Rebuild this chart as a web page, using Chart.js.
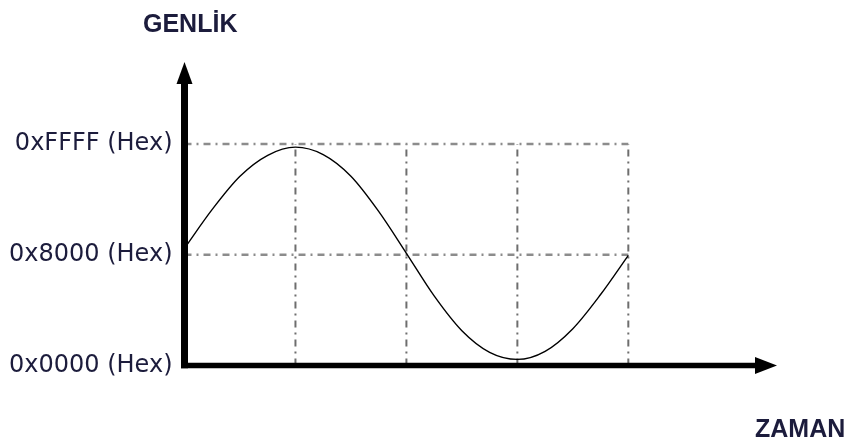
<!DOCTYPE html>
<html>
<head>
<meta charset="utf-8">
<script src="https://cdn.jsdelivr.net/npm/chart.js@4.4.0/dist/chart.umd.min.js"></script>
<style>
  html, body { margin: 0; padding: 0; background: #fff; }
  #wrap { width: 852px; height: 443px; }
</style>
</head>
<body>
<div id="wrap"><canvas id="sineChart"></canvas></div>
<script>
// Zaman ekseni (x) noktaları ve genlik değerleri
const timePoints = [0, 0.25, 0.5, 0.75, 1, 1.25, 1.5, 1.75, 2, 2.25, 2.5, 2.75, 3, 3.25, 3.5, 3.75, 4];
const amplitudeValues = [34700, 46200, 56000, 62200, 64600, 62400, 56000, 45600, 33200, 20600, 10300, 3900, 1800, 4200, 10900, 21000, 32600];

// Y ekseni etiketleri
const tickValues = [0, 32768, 65535];
const tickLabels = ['0x0000 (Hex)', '0x8000 (Hex)', '0xFFFF (Hex)'];

// Kılavuz çizgileri
const gridLevels = [65535, 32768];
const gridTimes = [1, 2, 3, 4];

const yTitle = 'GENLİK';
const xTitle = 'ZAMAN';

const xMax = 5.34;
const yMax = 89800;

const dashPattern = [7, 5, 2, 5];

// Kılavuz çizgileri için datasetler
const gridDatasets = [];
gridLevels.forEach(level => {
    gridDatasets.push({
        data: [{ x: 0, y: level }, { x: gridTimes[gridTimes.length - 1], y: level }],
        borderColor: '#8c8c8c',
        borderWidth: 2.5,
        borderDash: dashPattern,
        pointRadius: 0,
        tension: 0
    });
});
gridTimes.forEach(t => {
    gridDatasets.push({
        data: [{ x: t, y: 0 }, { x: t, y: gridLevels[0] }],
        borderColor: '#6e6e6e',
        borderWidth: 2,
        borderDash: dashPattern,
        pointRadius: 0,
        tension: 0
    });
});

// Eksenler, oklar ve başlıklar
const axesPlugin = {
    id: 'axesArrows',
    afterDatasetsDraw(chart) {
        const { ctx, chartArea } = chart;
        const yScale = chart.scales.y;
        const x0 = chartArea.left;
        const y0 = yScale.getPixelForValue(0);
        ctx.save();
        ctx.fillStyle = '#000';
        ctx.strokeStyle = '#000';

        // dikey eksen
        ctx.lineWidth = 7;
        ctx.beginPath();
        ctx.moveTo(x0, y0 + 2.75);
        ctx.lineTo(x0, chartArea.top + 20);
        ctx.stroke();
        ctx.beginPath();
        ctx.moveTo(x0, chartArea.top);
        ctx.lineTo(x0 + 8, chartArea.top + 22);
        ctx.lineTo(x0 - 8, chartArea.top + 22);
        ctx.closePath();
        ctx.fill();

        // yatay eksen
        ctx.lineWidth = 5.5;
        ctx.beginPath();
        ctx.moveTo(x0 - 3.5, y0);
        ctx.lineTo(chartArea.right - 20, y0);
        ctx.stroke();
        ctx.beginPath();
        ctx.moveTo(chartArea.right, y0);
        ctx.lineTo(chartArea.right - 22, y0 - 8.5);
        ctx.lineTo(chartArea.right - 22, y0 + 8.5);
        ctx.closePath();
        ctx.fill();

        // başlıklar
        ctx.fillStyle = '#1c1c3c';
        ctx.font = 'bold 25px "Liberation Sans", Arial, sans-serif';
        ctx.textAlign = 'left';
        ctx.textBaseline = 'alphabetic';
        ctx.fillText(yTitle, 143, 32);
        ctx.fillText(xTitle, 755, 437);
        ctx.restore();
    }
};

const ctx = document.getElementById('sineChart').getContext('2d');
new Chart(ctx, {
    type: 'line',
    data: {
        datasets: [
            {
                data: timePoints.map((t, i) => ({ x: t, y: amplitudeValues[i] })),
                borderColor: '#000',
                borderWidth: 1.4,
                pointRadius: 0,
                cubicInterpolationMode: 'monotone',
                fill: false
            },
            ...gridDatasets
        ]
    },
    options: {
        responsive: true,
        maintainAspectRatio: false,
        animation: false,
        layout: {
            padding: { top: 62, right: 75, bottom: 77.5, left: 0 }
        },
        plugins: {
            legend: { display: false },
            tooltip: { enabled: false },
            title: { display: false }
        },
        scales: {
            x: {
                type: 'linear',
                min: 0,
                max: xMax,
                display: false
            },
            y: {
                type: 'linear',
                min: 0,
                max: yMax,
                afterBuildTicks: function(scale) {
                    scale.ticks = tickValues.map(v => ({ value: v }));
                },
                afterFit: function(scale) {
                    scale.width = 184.5;
                },
                grid: { display: false, drawTicks: false },
                border: { display: false },
                ticks: {
                    padding: 12,
                    color: '#1c1c3c',
                    font: { family: '"DejaVu Sans", Verdana, sans-serif', size: 24 },
                    callback: function(value) {
                        const idx = tickValues.indexOf(value);
                        return idx >= 0 ? tickLabels[idx] : '';
                    }
                }
            }
        }
    },
    plugins: [axesPlugin]
});
</script>
</body>
</html>
